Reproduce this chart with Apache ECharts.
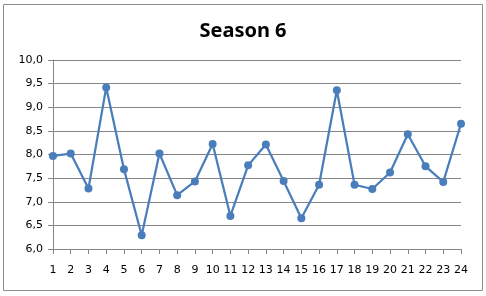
<!DOCTYPE html>
<html><head><meta charset="utf-8">
<script src="https://cdn.jsdelivr.net/npm/echarts@6/dist/echarts.min.js"></script>
<style>html,body{margin:0;padding:0;background:#fff}#c{width:486px;height:296px}</style>
</head><body><div id="c"></div>
<script>
const categories = ['1','2','3','4','5','6','7','8','9','10','11','12','13','14','15','16','17','18','19','20','21','22','23','24'];
const ratings = [7.97,8.02,7.28,9.42,7.69,6.29,8.02,7.14,7.43,8.22,6.70,7.77,8.21,7.44,6.65,7.36,9.36,7.36,7.27,7.62,8.43,7.75,7.42,8.65];
const titleText = 'Season 6';
const yMin = 6, yMax = 10, yStep = 0.5;

const chart = echarts.init(document.getElementById('c'), null, {renderer:'canvas'});
chart.setOption({
  animation:false,
  backgroundColor:'#fff',
  graphic:[{type:'rect',shape:{x:3.5,y:4.5,width:479,height:286},style:{fill:'none',stroke:'#8c8c8c',lineWidth:1},z:-1}],
  title:{text:titleText,left:'center',top:16,textStyle:{fontFamily:'Noto Sans',fontWeight:'bold',fontSize:20,color:'#000'}},
  grid:{left:53,right:25,top:60,bottom:47},
  xAxis:{type:'category',data:categories,boundaryGap:false,
    axisLine:{lineStyle:{color:'#868686',width:1}},
    axisTick:{show:true,length:5,alignWithLabel:true,lineStyle:{color:'#868686'}},
    axisLabel:{color:'#000',fontFamily:'DejaVu Sans',fontSize:11,margin:16,interval:0}},
  yAxis:{type:'value',min:yMin,max:yMax,interval:yStep,
    axisLine:{show:true,lineStyle:{color:'#868686',width:1}},
    axisTick:{show:true,length:5,inside:false,lineStyle:{color:'#868686'}},
    splitLine:{lineStyle:{color:'#868686',width:1}},
    axisLabel:{color:'#000',fontFamily:'DejaVu Sans',fontSize:11,margin:10,
      formatter:v=>v.toFixed(1).replace('.',',')}},
  series:[{type:'line',data:ratings,symbol:'circle',symbolSize:8,
    lineStyle:{color:'#4a7ebb',width:2.25},itemStyle:{color:'#4a7ebb'}}]
});
</script></body></html>
